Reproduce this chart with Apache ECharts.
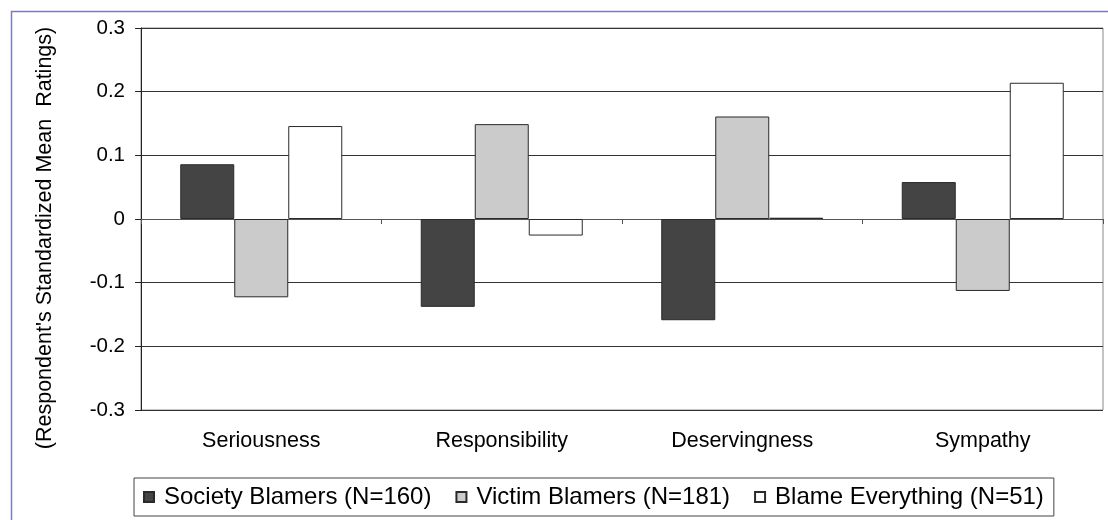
<!DOCTYPE html>
<html>
<head>
<meta charset="utf-8">
<script src="https://cdn.jsdelivr.net/npm/echarts@6/dist/echarts.min.js"></script>
<style>
  html, body { margin: 0; padding: 0; background: #fff; }
  #chart { width: 1108px; height: 520px; }
</style>
</head>
<body>
<div id="chart"></div>
<script>
// categories and series values
const categories = ["Seriousness", "Responsibility", "Deservingness", "Sympathy"];
const societyBlamers = [0.086, -0.138, -0.159, 0.058];
const victimBlamers = [-0.123, 0.149, 0.161, -0.113];
const blameEverything = [0.146, -0.026, 0.002, 0.214];
const seriesNames = ["Society Blamers (N=160)", "Victim Blamers (N=181)", "Blame Everything (N=51)"];
const yTicks = { min: -0.3, max: 0.3, step: 0.1 };

const font = "'Liberation Sans', Arial, sans-serif";

const chart = echarts.init(document.getElementById("chart"));

const barSeries = (name, data, fill) => ({
  name,
  type: "bar",
  data,
  barWidth: 54,
  barGap: "0%",
  itemStyle: { color: fill, borderColor: "#2a2a2a", borderWidth: 1 }
});

const option = {
  animation: false,
  textStyle: { fontFamily: font },
  grid: {
    left: 141, right: 5, top: 28, bottom: 110,
    show: true, borderColor: "#8a8a8a", borderWidth: 1
  },
  graphic: [
    // outer frame (only top/left edges are inside the picture)
    {
      type: "rect", left: 9, top: 9,
      shape: { width: 1200, height: 600 },
      style: { fill: null, stroke: "#7c7cbc", lineWidth: 1.5 },
      silent: true
    },
    {
      type: "text", x: 45, y: 238, rotation: Math.PI / 2,
      style: {
        text: "(Respondent's Standardized Mean  Ratings)",
        font: "21.5px " + font, fill: "#000",
        align: "center", verticalAlign: "middle"
      }
    }
  ],
  legend: {
    data: seriesNames,
    left: 134, top: 478,
    orient: "horizontal",
    icon: "rect",
    itemWidth: 10, itemHeight: 10, itemGap: 24,
    padding: [7, 10, 7, 9],
    borderColor: "#444", borderWidth: 1,
    textStyle: { fontSize: 24, color: "#000", fontFamily: font, padding: [0, 0, 0, 5] }
  },
  xAxis: [
    {
      type: "category",
      data: categories,
      position: "bottom",
      axisLine: { onZero: false, show: false },
      axisTick: { show: false },
      axisLabel: { color: "#000", fontSize: 21.5, margin: 20, fontFamily: font },
      splitLine: { show: false }
    },
    {
      // decorative axis on the zero line, with small ticks between categories
      type: "category",
      data: categories,
      position: "bottom",
      axisLine: { onZero: true, lineStyle: { color: "#555", width: 1 } },
      axisTick: { show: true, length: 5, lineStyle: { color: "#555" } },
      axisLabel: { show: false }
    }
  ],
  yAxis: {
    type: "value",
    min: yTicks.min, max: yTicks.max, interval: yTicks.step,
    axisLine: { show: true, lineStyle: { color: "#222", width: 1 } },
    axisTick: { show: true, length: 6, lineStyle: { color: "#222" } },
    axisLabel: {
      color: "#000", fontSize: 20.5, margin: 16, fontFamily: font,
      formatter: v => (Math.abs(v) < 1e-9 ? "0" : (Math.round(v * 10) / 10).toString())
    },
    splitLine: { show: true, lineStyle: { color: "#333", width: 1 } }
  },
  series: [
    barSeries(seriesNames[0], societyBlamers, "#444444"),
    barSeries(seriesNames[1], victimBlamers, "#cbcbcb"),
    barSeries(seriesNames[2], blameEverything, "#ffffff")
  ]
};

chart.setOption(option);
</script>
</body>
</html>
